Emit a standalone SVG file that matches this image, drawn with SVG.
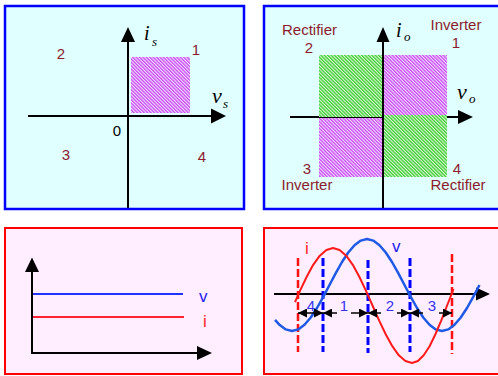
<svg xmlns="http://www.w3.org/2000/svg" width="498" height="376" viewBox="0 0 498 376">
<style>
.pb{fill:#E0FFFF;stroke:#0000FF;stroke-width:2.5}
.pr{fill:#FFEEFF;stroke:#FF0000;stroke-width:2}
.ax{stroke:#000;stroke-width:2;fill:none}
.ah{fill:#000}
.lbl{font-family:"Liberation Sans",Arial,sans-serif;font-size:15px;fill:#8C1C2C;text-anchor:middle}
.it{font-family:"Liberation Serif","Times New Roman",serif;font-style:italic;fill:#000}
.bl{font-family:"Liberation Sans",Arial,sans-serif;font-size:15px;fill:#3333EE;text-anchor:middle}
.rd{font-family:"Liberation Sans",Arial,sans-serif;font-size:17px;fill:#FF2222}
.bv{font-family:"Liberation Sans",Arial,sans-serif;font-size:17px;fill:#2222EE}
.dr{stroke:#FF1111;stroke-width:2.5;stroke-dasharray:8,3;fill:none}
.db{stroke:#0000FF;stroke-width:3;stroke-dasharray:8,3;fill:none}
.da{stroke:#000;stroke-width:1.5;fill:none}
</style>
<defs>
<pattern id="mag" width="2.4" height="2.4" patternUnits="userSpaceOnUse" patternTransform="rotate(-45)">
<rect width="2.4" height="2.4" fill="#F6E0FF"/>
<rect width="1.3" height="2.4" fill="#C648F6"/>
</pattern>
<pattern id="grn" width="2.4" height="2.4" patternUnits="userSpaceOnUse" patternTransform="rotate(-45)">
<rect width="2.4" height="2.4" fill="#DCF8D4"/>
<rect width="1.3" height="2.4" fill="#3ECC34"/>
</pattern>
<marker id="ar" viewBox="0 0 10 10" refX="10" refY="5" markerWidth="9" markerHeight="9" markerUnits="userSpaceOnUse" orient="auto-start-reverse">
<path d="M0,0 L10,5 L0,10 Z" fill="#000"/>
</marker>
</defs>

<g id="panel1">
<rect class="pb" x="5" y="6" width="239" height="203"/>
<rect x="131" y="57" width="59" height="56" fill="url(#mag)"/>
<line class="ax" x1="28" y1="116" x2="213" y2="116"/>
<line class="ax" x1="128" y1="40" x2="128" y2="208"/>
<polygon class="ah" points="128,27 121,42 135,42"/>
<polygon class="ah" points="226,116 211,108.5 211,123.5"/>
<text class="it" x="144" y="40" font-size="20">i</text>
<text class="it" x="152" y="46" font-size="13">s</text>
<text class="it" x="212" y="103" font-size="22">v</text>
<text class="it" x="223" y="108" font-size="13">s</text>
<text class="lbl" x="196" y="55">1</text>
<text class="lbl" x="61" y="59">2</text>
<text class="lbl" x="117" y="136" style="fill:#000">0</text>
<text class="lbl" x="66" y="160">3</text>
<text class="lbl" x="202" y="162">4</text>
</g>

<g id="panel2">
<rect class="pb" x="264" y="6" width="240" height="203"/>
<line class="ax" x1="290" y1="117" x2="460" y2="117"/>
<rect x="319" y="55" width="63.5" height="62" fill="url(#grn)"/>
<rect x="383.5" y="55" width="63.5" height="61" fill="url(#mag)"/>
<rect x="319" y="118" width="63.5" height="59" fill="url(#mag)"/>
<rect x="383.5" y="115" width="63.5" height="62" fill="url(#grn)"/>
<line class="ax" x1="383" y1="40" x2="383" y2="208"/>
<polygon class="ah" points="383,27 376.5,42 389.5,42"/>
<polygon class="ah" points="473,117 458,110 458,124"/>
<text class="it" x="396" y="37" font-size="20">i</text>
<text class="it" x="404" y="41" font-size="13">o</text>
<text class="it" x="457" y="99" font-size="22">v</text>
<text class="it" x="469" y="103" font-size="13">o</text>
<text class="lbl" x="309.5" y="35">Rectifier</text>
<text class="lbl" x="309" y="53">2</text>
<text class="lbl" x="456" y="30">Inverter</text>
<text class="lbl" x="456" y="48">1</text>
<text class="lbl" x="307" y="174">3</text>
<text class="lbl" x="307" y="190">Inverter</text>
<text class="lbl" x="457" y="174">4</text>
<text class="lbl" x="458" y="190">Rectifier</text>
</g>

<g id="panel3">
<rect class="pr" x="5" y="228" width="237" height="146"/>
<line x1="32" y1="294" x2="183" y2="294" stroke="#2233FF" stroke-width="2"/>
<line x1="32" y1="317" x2="184" y2="317" stroke="#FF2233" stroke-width="2"/>
<line class="ax" x1="32" y1="270" x2="32" y2="353"/>
<line class="ax" x1="31" y1="353" x2="199" y2="353"/>
<polygon class="ah" points="32,257.5 25,272 39,272"/>
<polygon class="ah" points="212,353 197,346 197,360"/>
<text class="bv" x="199" y="302">v</text>
<text class="rd" x="203" y="327">i</text>
</g>

<g id="panel4">
<rect class="pr" x="264" y="228" width="240" height="146"/>
<line class="ax" x1="274" y1="294" x2="479" y2="294"/>
<polygon class="ah" points="490,294 476,287.5 476,300.5"/>
<line class="dr" x1="298" y1="258" x2="298" y2="352"/>
<line class="db" x1="323" y1="258" x2="323" y2="352"/>
<line class="db" x1="368" y1="260" x2="368" y2="353"/>
<line class="db" x1="410" y1="258" x2="410" y2="352"/>
<line class="dr" x1="452" y1="254" x2="452" y2="354" stroke-width="3"/>
<polyline fill="none" stroke="#1E5AE6" stroke-width="2.5" stroke-linejoin="round" points="275,319.8 279.5,324.8 285.75,329.4 292,331 298.25,329.4 304.5,324.8 310.75,317.5 317,308 323.25,296.9 329.5,285 335.75,273.1 342,262 348.25,252.5 354.5,245.2 360.75,240.6 367,239 373.25,240.6 379.5,245.2 385.75,252.5 392,262 398.25,273.1 404.5,285 410.75,296.9 417,308 423.25,317.5 429.5,324.8 435.75,329.4 442,331 448.25,329.4 454.5,324.8 460.75,317.5 467,308 473.25,296.9 479.5,285"/>
<polyline fill="none" stroke="#FF1A1A" stroke-width="2" stroke-linejoin="round" points="295,302.1 300.1,290.6 306.7,276.75 313.2,264.8 319.8,255.7 326.4,250 333,248 339.6,250 346.2,255.7 352.8,264.8 359.3,276.75 365.9,290.6 372.5,305.5 379.1,320.4 385.7,334.25 392.3,346.2 398.8,355.3 405.4,361 412,363 417.9,361 423.7,355.3 429.6,346.2 435.4,334.25 441.3,320.4 447.1,305.5 452,293 453.5,289"/>
<text class="rd" x="305" y="254">i</text>
<text class="bv" x="392" y="252">v</text>
<line class="da" x1="298" y1="313" x2="323" y2="313" marker-start="url(#ar)" marker-end="url(#ar)"/>
<line class="da" x1="323" y1="313" x2="337" y2="313" marker-start="url(#ar)"/>
<line class="da" x1="351" y1="313" x2="368" y2="313" marker-end="url(#ar)"/>
<line class="da" x1="368" y1="313" x2="381" y2="313" marker-start="url(#ar)"/>
<line class="da" x1="397" y1="313" x2="410" y2="313" marker-end="url(#ar)"/>
<line class="da" x1="410" y1="313" x2="423" y2="313" marker-start="url(#ar)"/>
<line class="da" x1="439" y1="313" x2="452" y2="313" marker-end="url(#ar)"/>
<text class="bl" x="311" y="311">4</text>
<text class="bl" x="344" y="311">1</text>
<text class="bl" x="390" y="311">2</text>
<text class="bl" x="432" y="311">3</text>
</g>
</svg>
